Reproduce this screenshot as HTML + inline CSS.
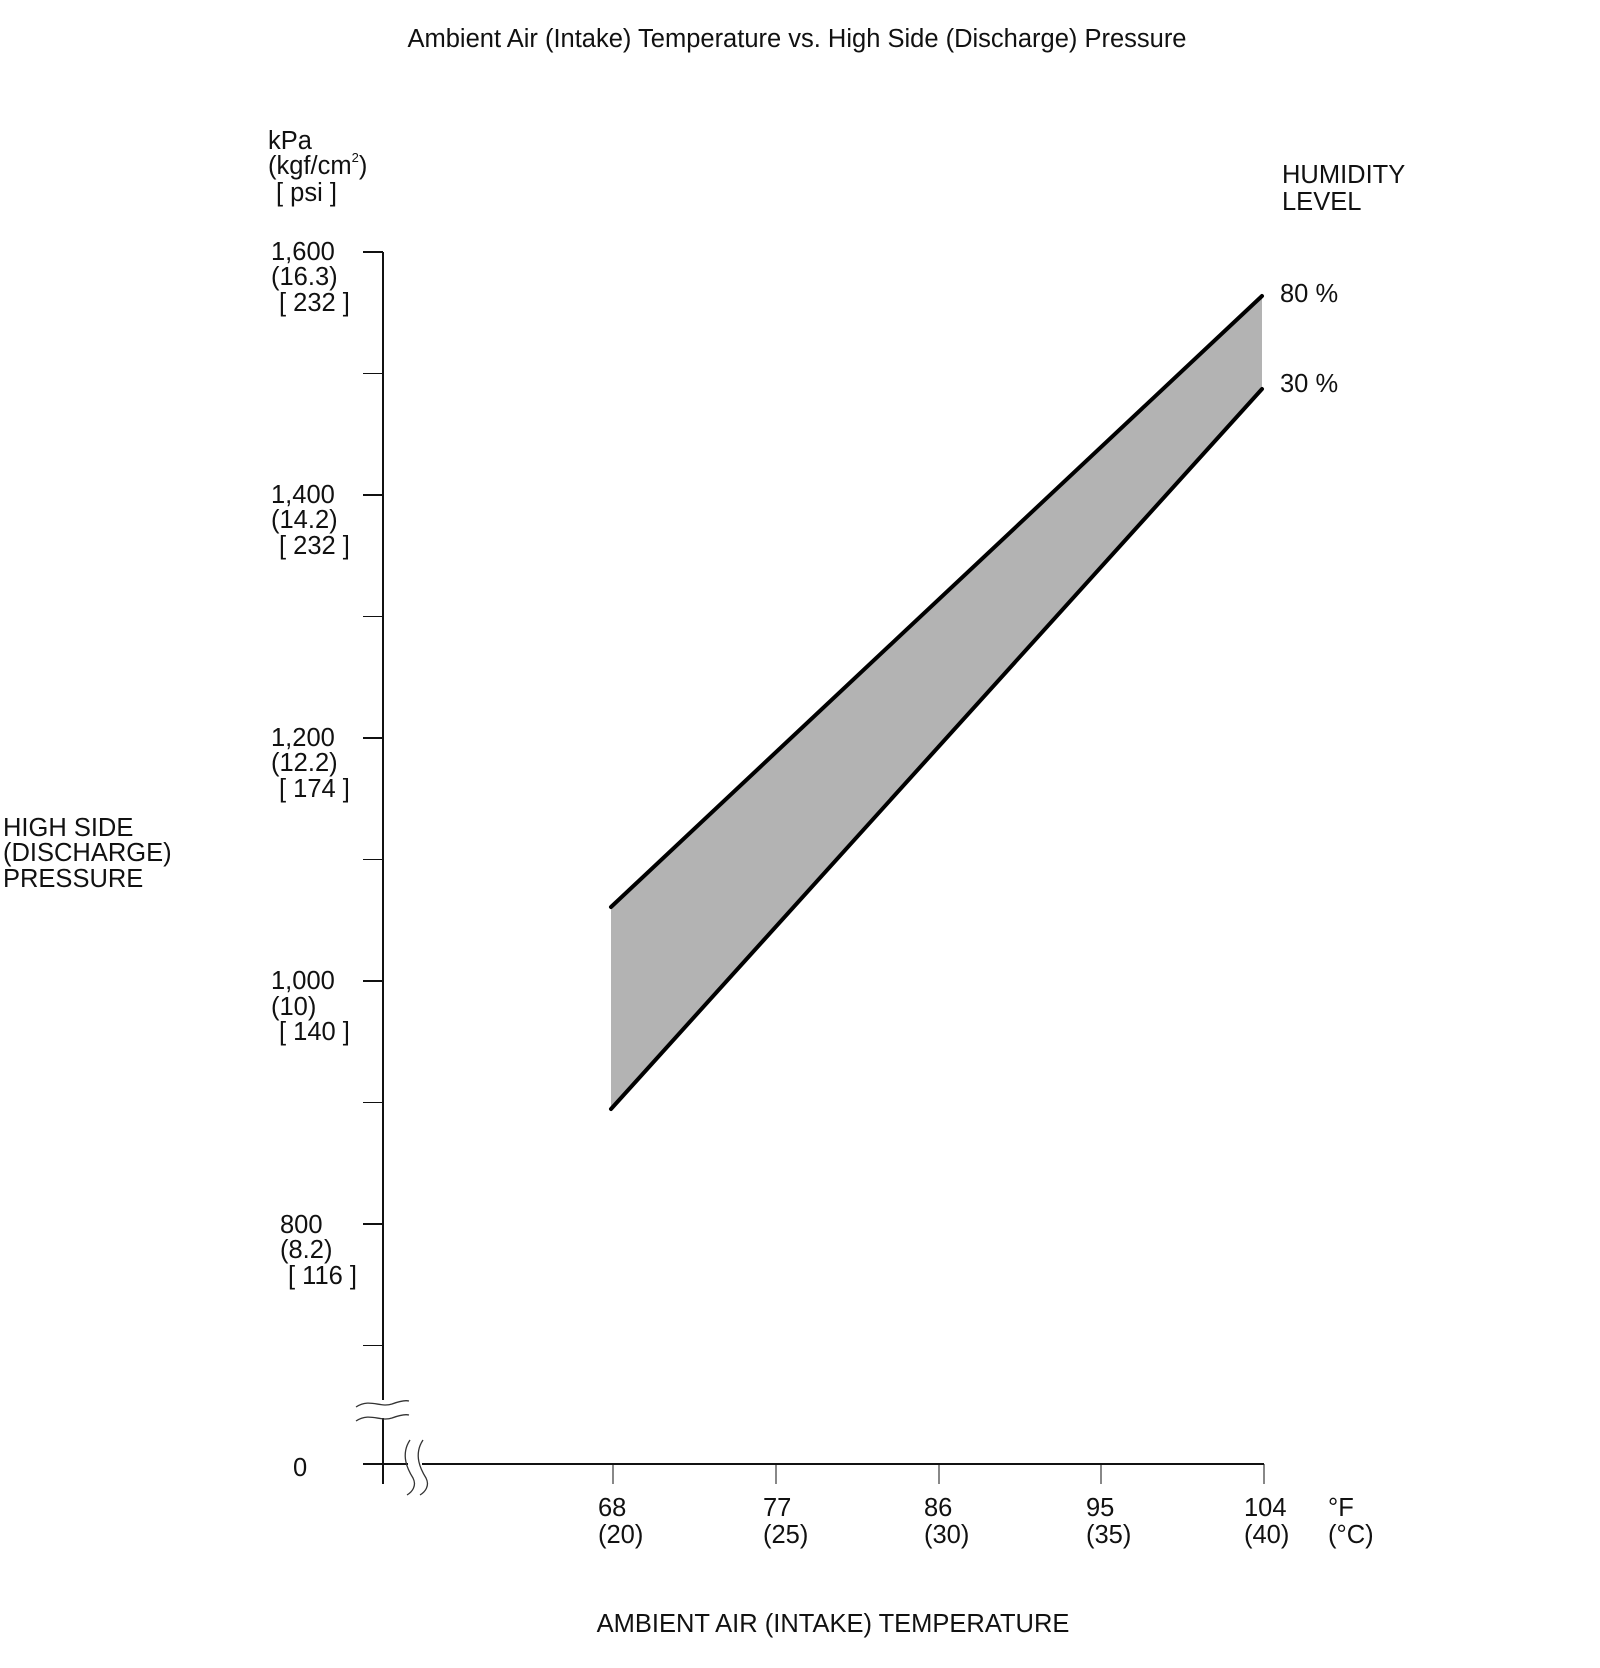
<!DOCTYPE html>
<html><head><style>
html,body{margin:0;padding:0;background:#fff;}
svg{display:block;}
text{font-family:"Liberation Sans",Arial,sans-serif;font-size:25.5px;fill:#111;}
</style></head><body>
<svg width="1600" height="1668" viewBox="0 0 1600 1668" xmlns="http://www.w3.org/2000/svg">
<text x="797" y="39" text-anchor="middle" dominant-baseline="central">Ambient Air (Intake) Temperature vs. High Side (Discharge) Pressure</text>

<text x="268" y="141" dominant-baseline="central">kPa</text>
<text x="268" y="166" dominant-baseline="central">(kgf/cm<tspan font-size="13" dy="-9">2</tspan><tspan dy="9">)</tspan></text>
<text x="276" y="193" dominant-baseline="central">[ psi ]</text>

<text x="3" y="828" dominant-baseline="central">HIGH SIDE</text>
<text x="3" y="853" dominant-baseline="central">(DISCHARGE)</text>
<text x="3" y="879" dominant-baseline="central">PRESSURE</text>

<text x="1282" y="175" dominant-baseline="central">HUMIDITY</text>
<text x="1282" y="202" dominant-baseline="central">LEVEL</text>
<text x="1280" y="294" dominant-baseline="central">80 %</text>
<text x="1280" y="384" dominant-baseline="central">30 %</text>

<polygon points="611,907 1262,296 1262,389 611,1109" fill="#b3b3b3"/>
<line x1="611" y1="907" x2="1262" y2="296" stroke="#000" stroke-width="4" stroke-linecap="round"/>
<line x1="611" y1="1109" x2="1262" y2="389" stroke="#000" stroke-width="4" stroke-linecap="round"/>

<g stroke="#111" stroke-width="2" fill="none">
<line x1="383" y1="252" x2="383" y2="1484"/>
<line x1="363" y1="1464" x2="1264" y2="1464"/>
<line x1="363" y1="252" x2="383" y2="252"/>
<line x1="363" y1="373.5" x2="383" y2="373.5" stroke-width="1"/>
<line x1="363" y1="495" x2="383" y2="495"/>
<line x1="363" y1="616.5" x2="383" y2="616.5" stroke-width="1"/>
<line x1="363" y1="738" x2="383" y2="738"/>
<line x1="363" y1="859.5" x2="383" y2="859.5" stroke-width="1"/>
<line x1="363" y1="981" x2="383" y2="981"/>
<line x1="363" y1="1102.5" x2="383" y2="1102.5" stroke-width="1"/>
<line x1="363" y1="1224" x2="383" y2="1224"/>
<line x1="363" y1="1345.5" x2="383" y2="1345.5" stroke-width="1"/>
<line x1="613" y1="1464" x2="613" y2="1484" stroke-width="1"/>
<line x1="776" y1="1464" x2="776" y2="1484" stroke-width="1"/>
<line x1="939" y1="1464" x2="939" y2="1484" stroke-width="1"/>
<line x1="1101" y1="1464" x2="1101" y2="1484" stroke-width="1"/>
<line x1="1264" y1="1464" x2="1264" y2="1484" stroke-width="1"/>
</g>
<rect x="370" y="1400" width="30" height="18" fill="#fff"/>
<g stroke="#333" stroke-width="1.3" fill="none">
<path d="M356,1407 C370,1398 380,1408 392,1404 C400,1401 405,1400 409,1401"/>
<path d="M356,1421 C370,1412 380,1422 392,1418 C400,1415 405,1414 409,1415"/>
</g>
<rect x="408" y="1456" width="14" height="16" fill="#fff"/>
<g stroke="#333" stroke-width="1.3" fill="none">
<path d="M410,1440 C400,1455 408,1470 413,1478 C417,1486 412,1492 407,1495"/>
<path d="M423,1440 C413,1455 421,1470 426,1478 C430,1486 425,1492 420,1495"/>
</g>

<g>
<text x="271" y="252" dominant-baseline="central">1,600</text>
<text x="271" y="277" dominant-baseline="central">(16.3)</text>
<text x="279" y="303" dominant-baseline="central">[ 232 ]</text>
<text x="271" y="495" dominant-baseline="central">1,400</text>
<text x="271" y="520" dominant-baseline="central">(14.2)</text>
<text x="279" y="546" dominant-baseline="central">[ 232 ]</text>
<text x="271" y="738" dominant-baseline="central">1,200</text>
<text x="271" y="763" dominant-baseline="central">(12.2)</text>
<text x="279" y="789" dominant-baseline="central">[ 174 ]</text>
<text x="271" y="981" dominant-baseline="central">1,000</text>
<text x="271" y="1007" dominant-baseline="central">(10)</text>
<text x="279" y="1032" dominant-baseline="central">[ 140 ]</text>
<text x="280" y="1225" dominant-baseline="central">800</text>
<text x="280" y="1250" dominant-baseline="central">(8.2)</text>
<text x="288" y="1276" dominant-baseline="central">[ 116 ]</text>
<text x="293" y="1468" dominant-baseline="central">0</text>
</g>
<g>
<text x="598" y="1508" dominant-baseline="central">68</text>
<text x="598" y="1535" dominant-baseline="central">(20)</text>
<text x="763" y="1508" dominant-baseline="central">77</text>
<text x="763" y="1535" dominant-baseline="central">(25)</text>
<text x="924" y="1508" dominant-baseline="central">86</text>
<text x="924" y="1535" dominant-baseline="central">(30)</text>
<text x="1086" y="1508" dominant-baseline="central">95</text>
<text x="1086" y="1535" dominant-baseline="central">(35)</text>
<text x="1244" y="1508" dominant-baseline="central">104</text>
<text x="1244" y="1535" dominant-baseline="central">(40)</text>
<text x="1328" y="1508" dominant-baseline="central">°F</text>
<text x="1328" y="1535" dominant-baseline="central">(°C)</text>
</g>
<text x="833" y="1624" text-anchor="middle" dominant-baseline="central">AMBIENT AIR (INTAKE) TEMPERATURE</text>
</svg>
</body></html>
